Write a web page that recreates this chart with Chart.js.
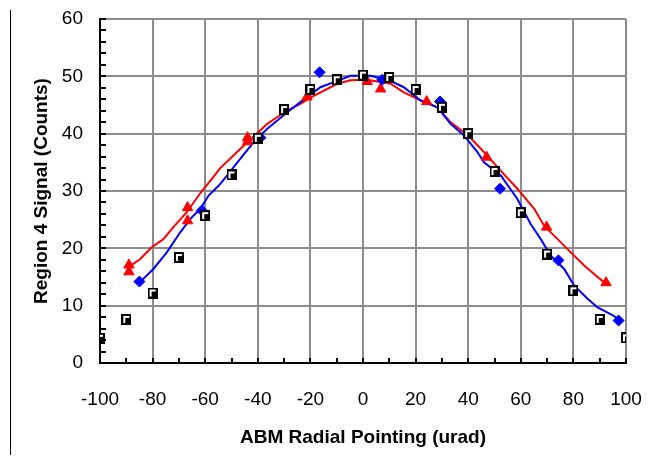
<!DOCTYPE html>
<html>
<head>
<meta charset="utf-8">
<script src="https://cdn.jsdelivr.net/npm/chart.js@4.4.1/dist/chart.umd.min.js"></script>
<style>
  body { margin: 0; background: #fff; }
  #chart { display: block; }
</style>
</head>
<body>
<canvas id="chart" width="660" height="468"></canvas>
<script>
// measured points (black squares)
var squareX = [-100, -90, -80, -70, -60, -50, -40, -30, -20, -10, 0, 10, 20, 30, 40, 50, 60, 70, 80, 90, 100];
var squareY = [4.3, 7.6, 12.2, 18.4, 25.7, 32.8, 39.2, 44.2, 47.7, 49.4, 50.2, 49.8, 47.7, 44.6, 40.0, 33.4, 26.2, 19.0, 12.6, 7.6, 4.4];

// blue diamonds
var diamondX = [-85, -61.3, -39, -16.5, 7.3, 29.3, 52.1, 74.3, 97.2];
var diamondY = [14.2, 26.6, 39.3, 50.7, 49.4, 45.6, 30.4, 17.9, 7.4];

// red triangles
var triangleX = [-89, -89, -66.7, -66.7, -43.9, -43.9, -21.3, 1.6, 6.7, 24.2, 47, 69.8, 92.4];
var triangleY = [17.1, 15.9, 27.1, 24.8, 39.3, 38.6, 46.4, 49.1, 47.8, 45.6, 35.9, 23.7, 14.0];

// red curve
var redLineX = [-88.6, -84.8, -80.3, -75.9, -72.1, -67, -61.9, -56.8, -54.3, -45.4, -36.5, -28.9, -23.8, -20, -9.8, -4.8, 1.6, 10.5, 15.5, 21.9, 28.3, 33.3, 39.7, 46, 52.4, 58.7, 65.1, 68.9, 74, 79, 84.1, 89.2, 92.4];
var redLineY = [16.9, 18.1, 20.2, 21.6, 23.7, 26.3, 29.6, 32.5, 34.0, 37.9, 41.7, 44.0, 45.2, 46.3, 48.7, 49.3, 49.4, 48.7, 47.2, 45.8, 44.6, 42.0, 39.8, 36.8, 33.5, 30.4, 26.9, 23.9, 21.6, 19.3, 17.0, 15.0, 13.8];

// blue curve
var blueLineX = [-84.8, -79.7, -74.6, -69.5, -65.7, -61.9, -58.7, -54.9, -51.7, -46.7, -41.6, -36.5, -28.9, -23.8, -16.2, -9.8, -4.8, 2.9, 10.5, 15.5, 21.9, 28.3, 33.3, 38.4, 43.5, 46, 52.4, 58.7, 63.8, 67.6, 71.4, 76.5, 80.3, 85.4, 89.2, 94.3, 97.1];
var blueLineY = [14.1, 16.4, 19.3, 22.8, 25.1, 26.9, 29.2, 30.9, 32.7, 35.6, 38.5, 40.8, 43.7, 45.5, 48.1, 49.2, 50.1, 50.1, 49.2, 48.1, 45.8, 44.6, 41.7, 39.7, 36.8, 35.0, 32.7, 28.6, 24.2, 21.6, 18.7, 16.4, 13.5, 11.2, 9.7, 8.5, 7.7];

function toPoints(xs, ys) {
    var pts = [];
    for (var i = 0; i < xs.length; i++) {
        pts.push({ x: xs[i], y: ys[i] });
    }
    return pts;
}

// black square marker with white corner inside
var squareMarker = document.createElement("canvas");
squareMarker.width = 10;
squareMarker.height = 11;
var sctx = squareMarker.getContext("2d");
sctx.fillStyle = "#000";
sctx.fillRect(0, 0, 10, 11);
sctx.fillStyle = "#fff";
sctx.fillRect(2, 2, 6, 2);
sctx.fillRect(2, 2, 2, 7);

// inward minor ticks + stray frame line at the left
var innerTicks = {
    id: "innerTicks",
    afterDatasetsDraw(chart) {
        var ctx = chart.ctx;
        var xs = chart.scales.x;
        var ys = chart.scales.y;
        var area = chart.chartArea;
        ctx.save();
        ctx.strokeStyle = "#000";
        ctx.lineWidth = 2;
        ctx.beginPath();
        for (var v = -100; v <= 100; v += 10) {
            var px = Math.round(xs.getPixelForValue(v));
            ctx.moveTo(px, area.bottom);
            ctx.lineTo(px, area.bottom - 5);
        }
        for (var w = 0; w <= 60; w += 2) {
            var py = Math.round(ys.getPixelForValue(w));
            ctx.moveTo(area.left, py);
            ctx.lineTo(area.left + 6, py);
        }
        ctx.stroke();
        ctx.lineWidth = 1;
        ctx.beginPath();
        ctx.moveTo(10.5, 10);
        ctx.lineTo(10.5, 455);
        ctx.stroke();
        ctx.restore();
    }
};

var tickFont = { family: "'Liberation Sans', Arial, sans-serif", size: 19 };
var titleFont = { family: "'Liberation Sans', Arial, sans-serif", size: 19, weight: "bold" };

new Chart("chart", {
    type: "scatter",
    data: {
        datasets: [
            {
                data: toPoints(squareX, squareY),
                pointStyle: squareMarker,
                order: 0,
            },
            {
                data: toPoints(diamondX, diamondY),
                pointStyle: "rectRot",
                pointRadius: 5.5,
                backgroundColor: "#0000ff",
                borderColor: "#0000ff",
                borderWidth: 1,
                order: 1,
            },
            {
                data: toPoints(triangleX, triangleY),
                pointStyle: "triangle",
                pointRadius: 6,
                backgroundColor: "#ff0000",
                borderColor: "#ff0000",
                borderWidth: 1,
                order: 1,
            },
            {
                data: toPoints(redLineX, redLineY),
                showLine: true,
                pointRadius: 0,
                borderColor: "#ff0000",
                borderWidth: 2,
                tension: 0,
                order: 3,
            },
            {
                data: toPoints(blueLineX, blueLineY),
                showLine: true,
                pointRadius: 0,
                borderColor: "#0000ff",
                borderWidth: 2,
                tension: 0,
                order: 2,
            },
        ],
    },
    options: {
        responsive: false,
        animation: false,
        devicePixelRatio: 1,
        layout: { padding: { top: 19, right: 34, left: 0, bottom: 0 } },
        plugins: {
            legend: { display: false },
            tooltip: { enabled: false },
        },
        scales: {
            x: {
                min: -100,
                max: 100,
                ticks: { stepSize: 20, color: "#000", font: tickFont, padding: 25, maxRotation: 0 },
                grid: { color: "#8c8c8c", lineWidth: 2, drawTicks: false },
                border: { color: "#000", width: 2 },
                title: { display: true, text: "ABM Radial Pointing (urad)", color: "#000", font: titleFont, padding: { top: 0, bottom: 19 } },
                afterFit(scale) {
                    scale.height = 105;
                    scale.paddingLeft = 0;
                    scale.paddingRight = 0;
                },
            },
            y: {
                min: 0,
                max: 60,
                ticks: { stepSize: 10, color: "#000", font: tickFont, padding: 17 },
                grid: { color: "#8c8c8c", lineWidth: 2, drawTicks: false },
                border: { color: "#000", width: 2 },
                title: { display: true, text: "Region 4 Signal (Counts)", color: "#000", font: titleFont, padding: { top: 30, bottom: 0 } },
                afterFit(scale) {
                    scale.width = 100;
                    scale.paddingTop = 0;
                    scale.paddingBottom = 0;
                },
            },
        },
    },
    plugins: [innerTicks],
});
</script>
</body>
</html>
